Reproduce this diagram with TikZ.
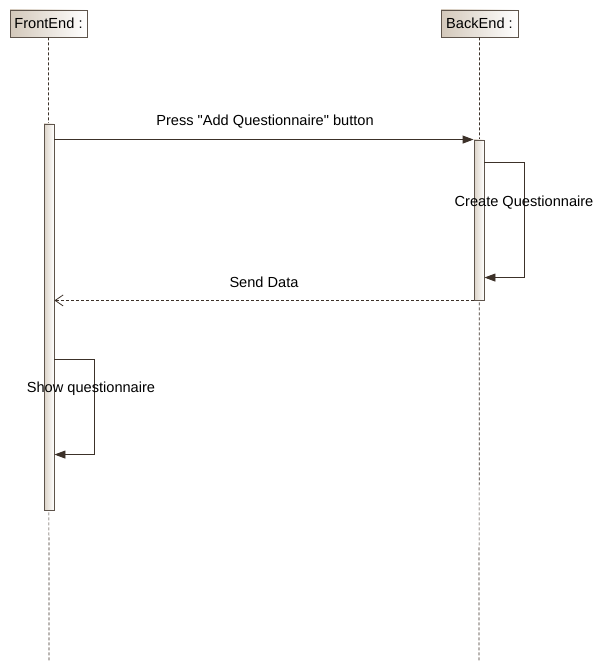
\documentclass[tikz,border=0pt]{standalone}
\usepackage{fontspec}
\setmainfont{Liberation Sans}
\usetikzlibrary{calc,arrows.meta}

\definecolor{umlline}{HTML}{3C3129}
\definecolor{umlframe}{HTML}{5E544B}
\definecolor{umltan}{HTML}{D3C8BA}

\begin{document}
\begin{tikzpicture}[
  x=1pt, y=-1pt,
  every path/.style={line width=0.9pt},
  every node/.style={font=\fontsize{14.6}{16}\selectfont},
  head/.style={draw=umlframe, left color=umltan, right color=white,
    minimum width=77pt, minimum height=27pt, inner sep=0pt},
  bar/.style={draw=umlframe, left color=umltan!80, right color=white,
    minimum width=10pt, inner sep=0pt},
  lifeline/.style={draw=umlline, dash pattern=on 3pt off 2pt, line width=0.7pt},
  call/.style={draw=umlline, -{Triangle[length=11pt,width=8pt]}},
  reply/.style={draw=umlline, dash pattern=on 3pt off 2pt,
    -{Straight Barb[length=8pt,width=11pt,line width=0.8pt]}},
  label/.style={inner sep=1pt}
]
\useasboundingbox (0,0) rectangle (614,671);

% ---------------- Lifelines ----------------
\node[head] (fe) at (48.5,23.5) {FrontEnd :};
\node[head] (be) at (479.5,23.5) {BackEnd :};
\coordinate (feEnd) at (49,661);
\coordinate (beEnd) at (479,661);
\draw[lifeline] (fe.south) -- (feEnd);
\draw[lifeline] (be.south) -- (beEnd);

% Activation bars
\node[bar, minimum height=386pt] (feAct) at (49,317) {};
\node[bar, minimum height=160pt] (beAct) at (479,220) {};

% ---------------- Messages ----------------
\draw[call] (feAct.east |- beAct.north) -- (beAct.north west);
\node[label] (press) at (265,121.5) {Press \textquotedbl Add Questionnaire\textquotedbl\ button};

% self call on the back end
\coordinate (cqA) at ($(beAct.north east)+(0,23)$);
\coordinate (cqB) at ($(cqA)+(40,0)$);
\coordinate (cqC) at ($(cqB)+(0,115)$);
\draw[call] (cqA) -- (cqB) -- (cqC) -- (cqC -| beAct.east);
\node[label] (create) at (524,202.5) {Create Questionnaire};

% reply
\draw[reply] (beAct.south west) -- (feAct.east |- beAct.south);
\node[label] (send) at (264,282.5) {Send Data};

% self call on the front end
\coordinate (sqA) at ($(feAct.north east)+(0,236)$);
\coordinate (sqB) at ($(sqA)+(40,0)$);
\coordinate (sqC) at ($(sqB)+(0,95)$);
\draw[call] (sqA) -- (sqB) -- (sqC) -- (sqC -| feAct.east);
\node[label] (show) at (91,388.5) {Show questionnaire};

\end{tikzpicture}
\end{document}
